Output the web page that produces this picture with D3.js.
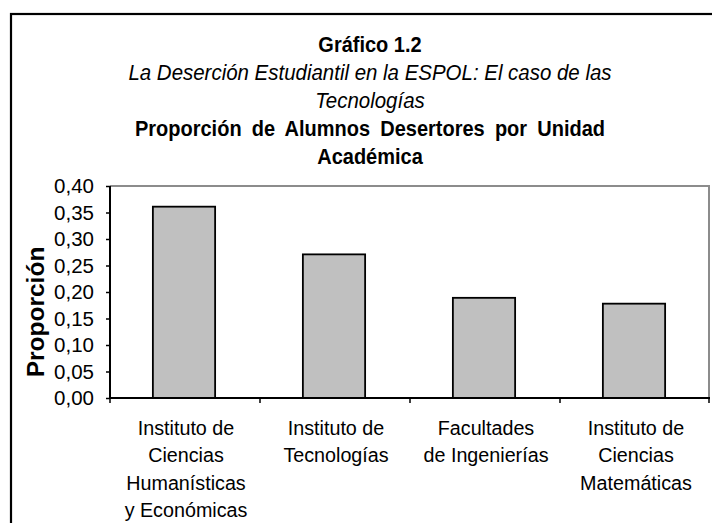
<!DOCTYPE html>
<html>
<head>
<meta charset="utf-8">
<script src="https://cdn.jsdelivr.net/npm/d3@7"></script>
<style>
  body { margin: 0; background: #fff; }
  svg { display: block; font-family: "Liberation Sans", Arial, sans-serif; }
</style>
</head>
<body>
<svg id="chart"></svg>
<script>
// data
const unidades = [
  ["Instituto de", "Ciencias", "Humanísticas", "y Económicas"],
  ["Instituto de", "Tecnologías"],
  ["Facultades", "de Ingenierías"],
  ["Instituto de", "Ciencias", "Matemáticas"]
];
const proporcion = [0.361, 0.271, 0.189, 0.178];
const yTicks = [0, 0.05, 0.10, 0.15, 0.20, 0.25, 0.30, 0.35, 0.40];
const titulos = [
  { text: "Gráfico 1.2", weight: "bold", style: "normal" },
  { text: "La Deserción Estudiantil en la ESPOL: El caso de las", weight: "normal", style: "italic" },
  { text: "Tecnologías", weight: "normal", style: "italic" },
  { text: "Proporción de Alumnos Desertores por Unidad", weight: "bold", style: "normal" },
  { text: "Académica", weight: "bold", style: "normal" }
];

const W = 712, H = 523;
const margin = { top: 186, right: 2, bottom: 125, left: 110 };
const width = W - margin.left - margin.right;
const height = H - margin.top - margin.bottom;

const svg = d3.select("#chart").attr("width", W).attr("height", H);

// outer frame (cut off at right and bottom like the scan)
svg.append("rect")
  .attr("x", 11).attr("y", 14)
  .attr("width", 760).attr("height", 600)
  .attr("fill", "none")
  .attr("stroke", "#000")
  .attr("stroke-width", 2.2);

// titles (scan is slightly squeezed horizontally)
svg.selectAll(".titulo")
  .data(titulos)
  .join("text")
    .attr("class", "titulo")
    .attr("transform", (d, i) => `translate(370,${52 + i * 28}) scale(0.93,1)`)
    .attr("text-anchor", "middle")
    .attr("font-weight", d => d.weight)
    .attr("font-style", d => d.style)
    .style("font-size", d => d.style == "italic" ? "22px" : "21.5px")
    .style("word-spacing", (d, i) => i == 3 ? "5px" : "0px")
    .text(d => d.text);

const chart = svg.append("g")
  .attr("transform", `translate(${margin.left},${margin.top})`);

// scales
const xScale = d3.scaleBand()
  .domain(d3.range(unidades.length))
  .range([0, width]);

const yScale = d3.scaleLinear()
  .domain([0, 0.4])
  .range([height, 0]);

const es = d3.formatLocale({ decimal: ",", thousands: ".", grouping: [3], currency: ["$", ""] });

// plot area border (gray top and right)
chart.append("path")
  .attr("d", `M0,${yScale(0.4)}H${width - 1}V${height}`)
  .attr("fill", "none")
  .attr("stroke", "#8c8c8c")
  .attr("stroke-width", 2);

// bars
const barW = xScale.bandwidth() * 0.415;
chart.selectAll(".bar")
  .data(proporcion)
  .join("rect")
    .attr("class", "bar")
    .attr("x", (d, i) => xScale(i) + xScale.bandwidth() / 2 - 1 - barW / 2)
    .attr("y", d => yScale(d))
    .attr("width", barW)
    .attr("height", d => height - yScale(d))
    .attr("fill", "#c0c0c0")
    .attr("stroke", "#000")
    .attr("stroke-width", 1.8);

// y axis
const yAxis = d3.axisLeft(yScale)
  .tickValues(yTicks)
  .tickFormat(es.format(".2f"))
  .tickSize(4)
  .tickPadding(12);

const yG = chart.append("g").call(yAxis);
yG.select(".domain").attr("stroke", "#000").attr("stroke-width", 2).attr("d", `M0,0V${height}`);
yG.selectAll(".tick line").attr("stroke", "#000").attr("stroke-width", 1.5);
yG.selectAll(".tick text")
  .attr("fill", "#000")
  .style("font-size", "20.5px")
  .style("font-family", "'Liberation Sans', Arial, sans-serif");

// x axis: ticks at category boundaries
const xG = chart.append("g").attr("transform", `translate(0,${height})`);
xG.append("line")
  .attr("x1", 0).attr("x2", width)
  .attr("stroke", "#000").attr("stroke-width", 2);
xG.selectAll(".xtick")
  .data(d3.range(unidades.length + 1))
  .join("line")
    .attr("class", "xtick")
    .attr("x1", d => d < unidades.length ? xScale(d) : width - 1)
    .attr("x2", d => d < unidades.length ? xScale(d) : width - 1)
    .attr("y1", 0).attr("y2", 5)
    .attr("stroke", "#000").attr("stroke-width", 1.5);

// category labels
xG.selectAll(".cat")
  .data(unidades)
  .join("text")
    .attr("class", "cat")
    .attr("text-anchor", "middle")
    .style("font-size", "21px")
    .attr("transform", (d, i) => `translate(${xScale(i) + xScale.bandwidth() / 2 + 1},37) scale(0.94,1)`)
  .selectAll("tspan")
  .data(d => d)
  .join("tspan")
    .attr("x", 0)
    .attr("y", (d, j) => j * 27.3)
    .text(d => d);

// y axis label
svg.append("text")
  .attr("transform", "translate(44,312) rotate(-90)")
  .attr("text-anchor", "middle")
  .attr("font-weight", "bold")
  .style("font-size", "24.5px")
  .text("Proporción");
</script>
</body>
</html>
